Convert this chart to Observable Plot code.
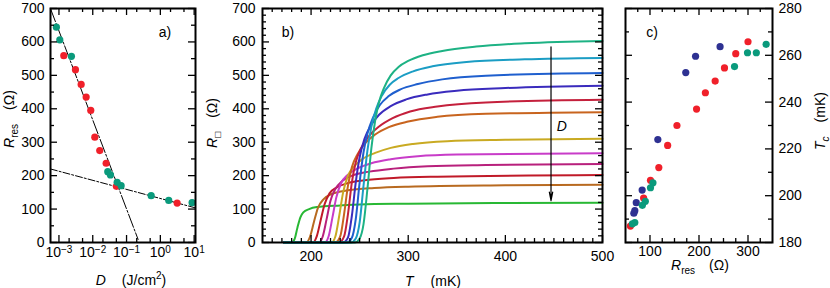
<!DOCTYPE html>
<html><head><meta charset="utf-8">
<script src="https://cdn.jsdelivr.net/npm/d3@7"></script>
<script src="https://cdn.jsdelivr.net/npm/@observablehq/plot@0.6"></script>
<style>
body{margin:0;background:#fff;font-family:"Liberation Sans",Arial,Helvetica,sans-serif;}
#wrap{position:relative;width:830px;height:288px;overflow:hidden;background:#fff}
#wrap svg{position:absolute;left:0;top:0}
.t{position:absolute;font-size:14px;white-space:nowrap;color:#000;transform:translate(-50%,-50%);line-height:1}
.r{transform:translate(-50%,-50%) rotate(-90deg)}
.sub{font-size:10px;position:relative;top:4px}
.sup{font-size:10px;position:relative;top:-6px}
</style></head><body><div id="wrap"></div>
<script>
// ---------- Panel a data ----------
const aTealD = [8.4e-4, 1.06e-3, 2.34e-3, 0.0278, 0.0334, 0.0527, 0.0692, 0.535, 1.77, 8.7];
const aTealR = [644, 606, 557, 212, 202, 180, 170, 140, 126, 119];
const aRedD  = [1.39e-3, 3.08e-3, 4.54e-3, 6.38e-3, 8.73e-3, 0.0115, 0.0161, 0.0249, 0.05, 3.14];
const aRedR  = [559, 517, 473, 435, 395, 315, 275, 237, 168, 118];
const fitSteepD = [5.6e-4, 0.22];
const fitSteepR = [700, 9];
const fitFlatD  = [5.6e-4, 10.5];
const fitFlatR  = [220, 104];
const aXMajor = [1e-3, 1e-2, 1e-1, 1, 10];
const aXMinor = [2e-3, 5e-3, 2e-2, 5e-2, 0.2, 0.5, 2, 5];
const aYMajor = [0, 100, 200, 300, 400, 500, 600, 700];
const aYMinor = [50, 150, 250, 350, 450, 550, 650];

// ---------- Panel b data (T in mK, R in ohm) ----------
const curve1  = [[172,0],[245,0],[250,12],[254,55],[258,160],[262,280],[266,365],[270,420],[275,462],[282,500],[290,525],[300,543],[315,560],[335,573],[370,586],[420,596],[500,603]];
const curve2  = [[172,0],[241,0],[246,12],[250,60],[254,170],[258,275],[262,345],[267,400],[273,440],[281,472],[290,492],[305,512],[325,527],[360,540],[420,548],[500,552]];
const curve3  = [[172,0],[237,0],[242,14],[246,70],[250,180],[254,270],[258,325],[264,375],[271,412],[280,438],[292,458],[310,474],[335,488],[380,499],[500,507]];
const curve4  = [[172,0],[233,0],[238,15],[242,80],[246,180],[250,255],[255,310],[262,352],[270,382],[282,408],[298,428],[320,443],[350,454],[400,462],[500,469]];
const curve5  = [[172,0],[229,0],[234,18],[238,85],[242,180],[246,240],[252,285],[260,320],[270,347],[284,372],[302,392],[330,407],[380,419],[500,427]];
const curve6  = [[172,0],[225,0],[230,18],[234,85],[238,170],[242,225],[248,265],[256,298],[266,323],[280,345],[300,362],[330,376],[380,385],[500,390]];
const curve7  = [[172,0],[221,0],[225,18],[229,80],[233,150],[238,200],[245,230],[254,252],[266,268],[282,283],[305,295],[340,303],[400,307],[500,310]];
const curve8  = [[172,0],[214,0],[218,18],[222,75],[226,135],[231,178],[238,203],[248,222],[262,237],[282,249],[310,258],[350,263],[500,267]];
const curve9  = [[172,0],[208,0],[212,18],[216,70],[220,125],[225,160],[232,184],[243,201],[260,212],[285,221],[320,228],[380,232],[500,235]];
const curve10 = [[172,0],[202,0],[206,20],[210,68],[214,115],[219,147],[226,164],[237,177],[255,186],[285,193],[330,197],[500,202]];
const curve11 = [[172,0],[195,0],[199,18],[203,62],[207,103],[213,130],[222,146],[238,156],[265,163],[300,167],[400,171],[500,173]];
const curve12 = [[172,0],[180,0],[183,10],[186,45],[189,75],[192,90],[198,100],[206,106],[230,111],[250,114],[300,116],[400,118],[500,119]];
const bCurves = [curve1, curve2, curve3, curve4, curve5, curve6, curve7, curve8, curve9, curve10, curve11, curve12];
const bColors = ["#1db284","#1b9dc4","#1f5fce","#3a2bbd","#c4203c","#c8641e","#c9aa22","#c83cc8","#b8207c","#c01a28","#b86a20","#28b834"];
const arrowT = 447, arrowFrom = 585, arrowTo = 125;
const dLabelT = 458, dLabelR = 347;
const bXMajor = [200, 300, 400, 500];
const bYMajor = [0, 100, 200, 300, 400, 500, 600, 700];

// ---------- Panel c data ----------
const cBlueR = [243, 193, 173, 116, 84, 72, 69, 67];
const cBlueT = [263.7, 259.6, 252.6, 224, 202.4, 197, 193.6, 192.5];
const cRedR  = [300, 275, 252, 233, 213, 195, 155, 136, 118, 101, 87, 60];
const cRedT  = [265.8, 260.7, 254.6, 249, 244, 237, 230, 221.5, 212, 206.6, 199, 187];
const cTealR = [337, 317, 299, 272.5, 106, 101, 90.5, 84.4, 69, 64];
const cTealT = [264.7, 261.1, 261.1, 255.2, 205.5, 203.4, 197.6, 195.9, 188.5, 188];
const cXMajor = [100, 200, 300];
const cYMajor = [180, 200, 220, 240, 260, 280];

const TEAL = "#0a9a7c", RED = "#f0202a", NAVY = "#2e3192";
const W = 830, H = 288, MT = 8, MB = 46;
const FH = H - MT - MB;

function frameTicks(xMaj, xMin, yMaj, yMin, fw) {
  const st = {stroke: "#000", strokeWidth: 1.3};
  const out = [];
  for (const [vals, len] of [[xMaj, 7], [xMin, 4]]) {
    out.push(Plot.ruleX(vals, {x: d => d, insetTop: FH - len, ...st}));
    out.push(Plot.ruleX(vals, {x: d => d, insetBottom: FH - len, ...st}));
  }
  for (const [vals, len] of [[yMaj, 7], [yMin, 4]]) {
    out.push(Plot.ruleY(vals, {y: d => d, insetRight: fw - len, ...st}));
    out.push(Plot.ruleY(vals, {y: d => d, insetLeft: fw - len, ...st}));
  }
  return out;
}
const style = {fontFamily: '"Liberation Sans", Arial, Helvetica, sans-serif', fontSize: "14px", color: "#000", background: "transparent", overflow: "visible"};

// ---- Panel a
const aL = 50, aR = 195;
const aTeal = aTealD.map((d, i) => ({D: d, R: aTealR[i]}));
const aRed = aRedD.map((d, i) => ({D: d, R: aRedR[i]}));
const svgA = Plot.plot({
  width: W, height: H, marginLeft: aL, marginRight: W - aR, marginTop: MT, marginBottom: MB, style,
  x: {type: "log", domain: [10 ** -3.25, 10 ** 1.04]},
  y: {domain: [0, 700]},
  marks: [
    Plot.line(fitSteepD.map((d, i) => [d, fitSteepR[i]]), {stroke: "#000", strokeWidth: 1, strokeDasharray: "14,2,2,2"}),
    Plot.line(fitFlatD.map((d, i) => [d, fitFlatR[i]]), {stroke: "#000", strokeWidth: 1, strokeDasharray: "7,2,2,2"}),
    Plot.dot(aRed, {x: "D", y: "R", r: 3.6, fill: RED}),
    Plot.dot(aTeal, {x: "D", y: "R", r: 3.6, fill: TEAL}),
    ...frameTicks(aXMajor, aXMinor, aYMajor, aYMinor, aR - aL),
    Plot.frame({stroke: "#000", strokeWidth: 2}),
    Plot.axisX(aXMajor, {anchor: "bottom", tickSize: 0, tickPadding: 5, label: null, tickFormat: d => String(Math.round(Math.log10(d)))}),
    Plot.axisY(aYMajor, {anchor: "left", tickSize: 0, tickPadding: 6, label: null})
  ]
});
svgA.querySelectorAll('g[aria-label="x-axis tick label"] text').forEach(t => {
  const e = t.textContent.replace("-", "\u2212");
  t.textContent = "10";
  const ts = document.createElementNS("http://www.w3.org/2000/svg", "tspan");
  ts.setAttribute("dy", "-0.45em");
  ts.setAttribute("font-size", "10");
  ts.textContent = e;
  t.appendChild(ts);
});

// ---- Panel b
const bL = 262, bR = 602;
const bXMinor = d3.range(160, 500, 10).filter(v => v % 100 !== 0);
const bYMinor = d3.range(20, 700, 20).filter(v => v % 100 !== 0);
const svgB = Plot.plot({
  width: W, height: H, marginLeft: bL, marginRight: W - bR, marginTop: MT, marginBottom: MB, style,
  x: {domain: [150, 500]},
  y: {domain: [0, 700]},
  marks: [
    ...bCurves.map((c, k) => Plot.line(c, {x: d => d[0], y: d => d[1], stroke: bColors[k], strokeWidth: 2, curve: "monotone-x"})).reverse(),
    Plot.arrow([0], {x1: () => arrowT, x2: () => arrowT, y1: () => arrowFrom, y2: () => arrowTo, stroke: "#000", strokeWidth: 1.2, headLength: 11, headAngle: 22}),
    Plot.text([0], {x: () => dLabelT, y: () => dLabelR, text: () => "D", fontStyle: "italic", fontSize: 14, fill: "#000"}),
    ...frameTicks(bXMajor, bXMinor, bYMajor, bYMinor, bR - bL),
    Plot.frame({stroke: "#000", strokeWidth: 2}),
    Plot.axisX(bXMajor, {anchor: "bottom", tickSize: 0, tickPadding: 9, label: null}),
    Plot.axisY(bYMajor, {anchor: "left", tickSize: 0, tickPadding: 7, label: null})
  ]
});

// ---- Panel c
const cL = 625, cR = 772;
const cBlue = cBlueR.map((r, i) => ({R: r, T: cBlueT[i]}));
const cRed = cRedR.map((r, i) => ({R: r, T: cRedT[i]}));
const cTeal = cTealR.map((r, i) => ({R: r, T: cTealT[i]}));
const cXMinor = d3.range(75, 350, 25).filter(v => v % 100 !== 0);
const cYMinor = [190, 210, 230, 250, 270];
const svgC = Plot.plot({
  width: W, height: H, marginLeft: cL, marginRight: W - cR, marginTop: MT, marginBottom: MB, style,
  x: {domain: [50, 350]},
  y: {domain: [180, 280]},
  marks: [
    Plot.dot(cBlue, {x: "R", y: "T", r: 3.6, fill: NAVY}),
    Plot.dot(cRed, {x: "R", y: "T", r: 3.6, fill: RED}),
    Plot.dot(cTeal, {x: "R", y: "T", r: 3.6, fill: TEAL}),
    ...frameTicks(cXMajor, cXMinor, cYMajor, cYMinor, cR - cL),
    Plot.frame({stroke: "#000", strokeWidth: 2}),
    Plot.axisX(cXMajor, {anchor: "bottom", tickSize: 0, tickPadding: 4, label: null}),
    Plot.axisY(cYMajor, {anchor: "right", tickSize: 0, tickPadding: 6, label: null})
  ]
});

const wrap = document.getElementById("wrap");
wrap.append(svgA, svgB, svgC);

const titles = [
  [131, 280, '<i>D</i><span style="margin-left:16px">(J/cm<span class="sup">2</span>)</span>', false],
  [433, 281, '<i>T</i><span style="margin-left:17px">(mK)</span>', false],
  [700, 265, '<i>R</i><span class="sub">res</span><span style="margin-left:14px">(\u03A9)</span>', false],
  [9, 119, '<i>R</i><span class="sub">res</span><span style="margin-left:14px">(\u03A9)</span>', true],
  [212, 123, '<i>R</i><span class="sub">\u25A1</span><span style="margin-left:14px">(\u03A9)</span>', true],
  [820, 121, '<i>T</i><span class="sub"><i>c</i></span><span style="margin-left:14px">(mK)</span>', true],
  [165, 32, 'a)', false],
  [288, 32, 'b)', false],
  [652, 32, 'c)', false]
];
for (const [x, y, html, rot] of titles) {
  const d = document.createElement("div");
  d.className = "t" + (rot ? " r" : "");
  d.style.left = x + "px";
  d.style.top = y + "px";
  d.innerHTML = html;
  wrap.appendChild(d);
}
</script></body></html>
